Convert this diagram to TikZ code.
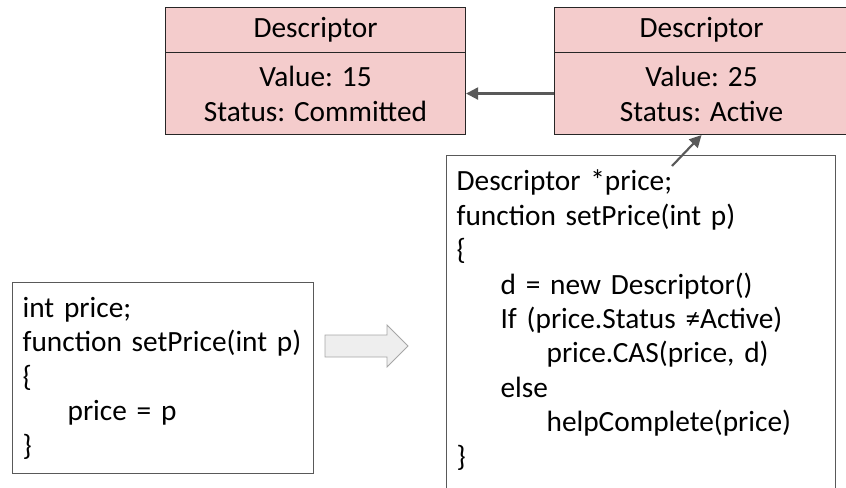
\documentclass[tikz,border=0pt]{standalone}
\usepackage{fontspec}
\setmainfont{Carlito}
\usetikzlibrary{arrows.meta}

\definecolor{descpink}{HTML}{F4CCCC}
\definecolor{linegray}{HTML}{595959}
\definecolor{arrowfill}{HTML}{EEEEEE}

\begin{document}
\begin{tikzpicture}[
  x=0.75pt, y=-0.75pt,
  every node/.style={font=\fontsize{22}{25.8}\selectfont},
  deschead/.style={draw=black!85, line width=0.8pt, fill=descpink, anchor=north west, minimum height=33.75pt, inner sep=0pt},
  descbody/.style={deschead, minimum height=61.5pt, align=center, font=\fontsize{22}{26.25}\selectfont},
  code/.style={draw=linegray, line width=0.9pt, anchor=north west, align=left, inner xsep=7.5pt, inner ysep=0pt},
  ptr/.style={draw=linegray, line width=1.6pt, -{Triangle[length=9pt,width=9pt]}},
  bigarrow/.style={draw=gray!70, fill=arrowfill, line width=0.6pt}
]
\useasboundingbox (0,0) rectangle (846,487);

% old descriptor (committed)
\node[deschead, minimum width=225pt] (descAhead) at (165,7) {Descriptor};
\node[descbody, minimum width=225pt] (descA) at (165,52) {Value: 15\\Status: Committed};

% new descriptor (active)
\node[deschead, minimum width=220.5pt] (descBhead) at (554,7) {Descriptor};
\node[descbody, minimum width=220.5pt] (descB) at (554,52) {Value: 25\\Status: Active};

% plain version
\node[code, text width=210.75pt, minimum height=143.25pt] (plain) at (12,282) {%
int price;\\
function setPrice(int p)\\
\{\\
\hspace*{33.75pt}price = p\\
\}};

% descriptor version, runs off the bottom
\node[code, text width=276.75pt, minimum height=273.75pt] (lockfree) at (446,155) {%
Descriptor *price;\\
function setPrice(int p)\\
\{\\
\hspace*{33pt}d = new Descriptor()\\
\hspace*{33pt}If (price.Status ≠Active)\\
\hspace*{67.5pt}price.CAS(price, d)\\
\hspace*{33pt}else\\
\hspace*{67.5pt}helpComplete(price)\\
\}\rule[-30pt]{0pt}{30pt}};

% block arrow between the two versions
\draw[bigarrow] (325,335) -- (387,335) -- (387,325) -- (408,346)
  -- (387,367) -- (387,357) -- (325,357) -- cycle;

% pointers
\coordinate (priceptr) at (672,166);
\draw[ptr] (descB.west) -- (descA.east);
\draw[ptr] (priceptr) -- (descB.south);
\end{tikzpicture}
\end{document}
